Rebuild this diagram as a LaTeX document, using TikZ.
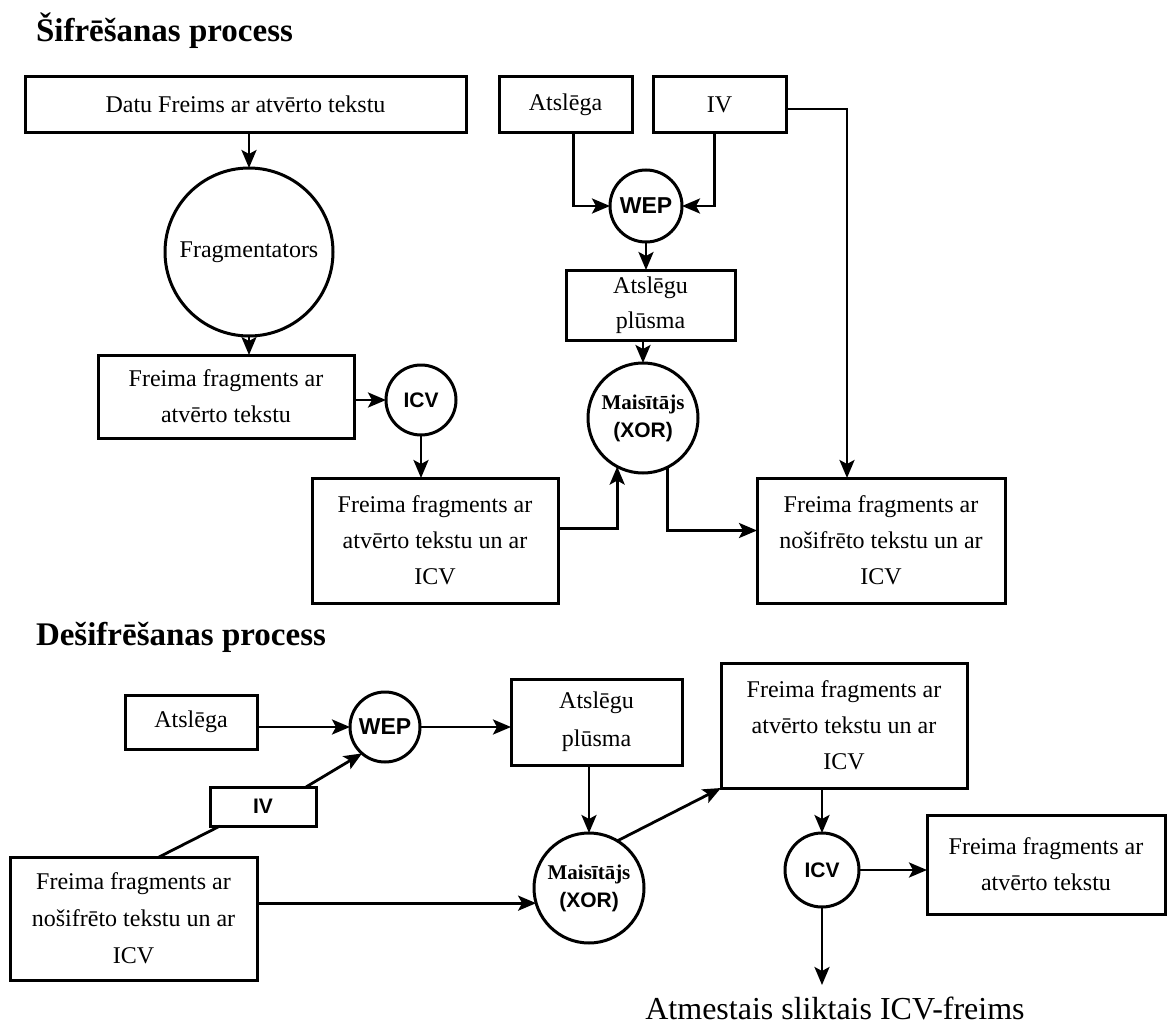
\documentclass[tikz,border=0pt]{standalone}
\usepackage{fontspec}
\setmainfont{Liberation Serif}
\setsansfont{Liberation Sans}
\usetikzlibrary{arrows.meta,calc}
\newcommand\txtbody{\fontsize{24}{36}\selectfont}
\newcommand\txttitle{\fontsize{33}{36}\selectfont\bfseries}
\newcommand\txtsans{\fontsize{21}{24}\selectfont\sffamily\bfseries}
\newcommand\txtwep{\fontsize{23}{24}\selectfont\sffamily\bfseries}
\newcommand\txtxor{\fontsize{21}{28}\selectfont\bfseries}
\begin{document}
\begin{tikzpicture}[x=1pt,y=-1pt,
  every node/.style={inner sep=0pt, outer sep=0pt},
  box/.style={draw, line width=3pt, align=center, font=\txtbody},
  disc/.style={draw, circle, line width=3pt, align=center},
  link/.style={line width=2.8pt},
  arr/.style={line width=2.8pt, -{Stealth[length=18pt,width=15pt,inset=4pt]}},
]
\useasboundingbox (0,0) rectangle (1168,1025);

% ---------- encryption ----------
\node[anchor=base west, font=\txttitle] (t1) at (36,42) {Šifrēšanas process};

\node[box, minimum width=441pt, minimum height=55pt] (datu) at (245.5,104.5) {Datu Freims ar atvērto tekstu};
\node[disc, minimum size=168pt, font=\txtbody] (frag) at (249,252) {Fragmentators};
\node[box, minimum width=256pt, minimum height=83pt] (atv1) at (226,396.5) {Freima fragments ar\\atvērto tekstu};
\node[disc, minimum size=70pt, font=\txtsans] (icv1) at (421,400) {ICV};
\node[box, minimum width=246pt, minimum height=125pt] (atvicv) at (435,540.5) {Freima fragments ar\\atvērto tekstu un ar\\ICV};

\node[box, minimum width=133pt, minimum height=55pt] (atsl1) at (565.5,104.5) {Atslēga};
\node[box, minimum width=133pt, minimum height=55pt] (iv1) at (719.5,104.5) {IV};
\node[disc, minimum size=72pt, font=\txtwep] (wep1) at (646,206) {WEP};
\node[box, minimum width=169pt, minimum height=70pt, font=\fontsize{24}{35}\selectfont] (ks1) at (650.5,305) {Atslēgu\\plūsma};
\node[disc, minimum size=110pt, font=\txtxor] (xor1) at (643,418) {Maisītājs\\{\sffamily (XOR)}};
\node[box, minimum width=248pt, minimum height=125pt] (nosif1) at (881,540.5) {Freima fragments ar\\nošifrēto tekstu un ar\\ICV};

\draw[arr] (frag.north |- datu.south) -- (frag.north);
\draw[arr] (frag.south) -- (frag.south |- atv1.north);
\draw[arr] (icv1.west -| atv1.east) -- (icv1.west);
\draw[arr] (icv1.south) -- (icv1.south |- atvicv.north);
\draw[arr] ([yshift=12pt]atvicv.east) -| (xor1.-118);
\draw[arr] ([xshift=8pt]atsl1.south) |- (wep1.west);
\draw[arr] ([xshift=-5pt]iv1.south) |- (wep1.east);
\draw[arr] (wep1.south) -- (wep1.south |- ks1.north);
\draw[arr] (xor1.north |- ks1.south) -- (xor1.north);
\draw[arr] (xor1.-64) |- ([yshift=10pt]nosif1.west);
\draw[arr] ([yshift=-4.5pt]iv1.east) -| ([xshift=-34pt]nosif1.north);

% ---------- decryption ----------
\node[anchor=base west, font=\txttitle] (t2) at (36,645) {Dešifrēšanas process};

\node[box, minimum width=132pt, minimum height=54pt] (atsl2) at (191,722) {Atslēga};
\node[disc, minimum size=70pt, font=\txtwep] (wep2) at (385,727) {WEP};
\node[box, minimum width=171pt, minimum height=86pt, font=\fontsize{24}{38}\selectfont] (ks2) at (596.5,722) {Atslēgu\\plūsma};
\node[box, minimum width=106pt, minimum height=39pt, font=\txtsans] (iv2) at (263,806.5) {IV};
\node[box, minimum width=247pt, minimum height=123pt, font=\fontsize{24}{37}\selectfont] (enc2) at (133.5,918.5) {Freima fragments ar\\nošifrēto tekstu un ar\\ICV};
\node[disc, minimum size=110pt, font=\txtxor] (xor2) at (589,888) {Maisītājs\\{\sffamily (XOR)}};
\node[box, minimum width=246pt, minimum height=125pt] (atv2) at (844,725.5) {Freima fragments ar\\atvērto tekstu un ar\\ICV};
\node[disc, minimum size=74pt, font=\txtsans] (icv2) at (822,870) {ICV};
\node[box, minimum width=238pt, minimum height=99pt] (plain2) at (1046,864.5) {Freima fragments ar\\atvērto tekstu};
\node[anchor=base, font=\fontsize{32}{36}\selectfont] (drop) at (835,1019) {Atmestais sliktais ICV-freims};
\coordinate (dropend) at (822,985);

\draw[arr] (atsl2.east |- wep2.west) -- (wep2.west);
\draw[arr] (wep2.east) -- (wep2.east -| ks2.west);
\draw[arr] (xor2.north |- ks2.south) -- (xor2.north);
\draw[link] ([xshift=25.5pt]enc2.north) -- ([xshift=-43pt]iv2.south);
\draw[arr] ([xshift=43pt]iv2.north) -- (wep2.229);
\draw[arr] (enc2.east |- xor2.196) -- (xor2.196);
\draw[arr] (xor2.59) -- (atv2.south west);
\draw[arr] (icv2.north |- atv2.south) -- (icv2.north);
\draw[arr] (icv2.east) -- (icv2.east -| plain2.west);
\draw[arr] (icv2.south) -- (dropend);
\end{tikzpicture}
\end{document}
